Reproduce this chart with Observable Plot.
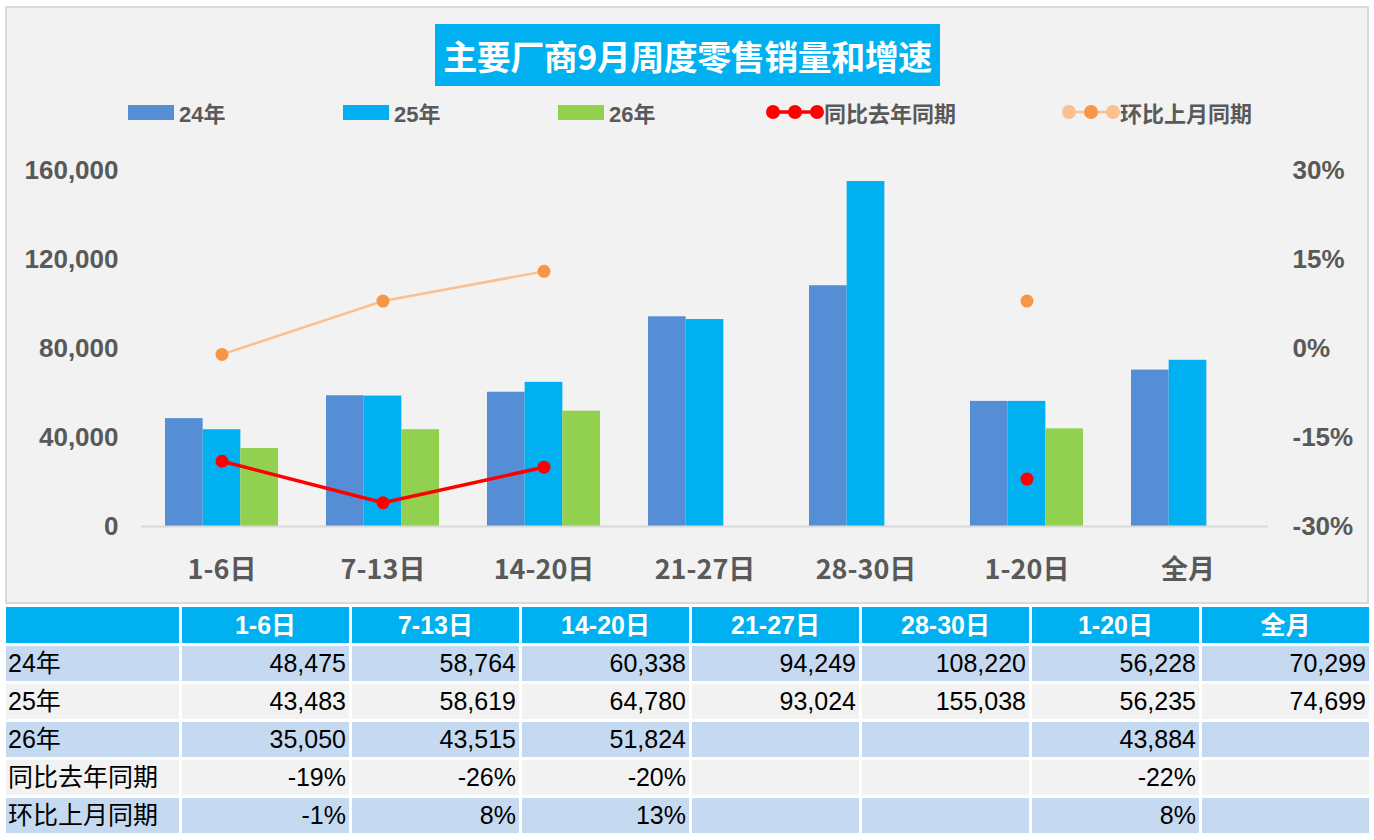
<!DOCTYPE html>
<html>
<head>
<meta charset="utf-8">
<script src="https://cdn.jsdelivr.net/npm/d3@7"></script>
<script src="https://cdn.jsdelivr.net/npm/@observablehq/plot@0.6"></script>
<style>
  html, body { margin: 0; padding: 0; background: #ffffff; }
  body { width: 1374px; height: 840px; overflow: hidden; font-family: "Liberation Sans", "Noto Sans CJK SC", sans-serif; }
  #wrap { position: relative; width: 1374px; height: 840px; }
  #chartbox { position: absolute; left: 5px; top: 6px; width: 1360px; height: 594px; background: #F2F2F2; border: 2px solid #D9D9D9; }
  #title { position: absolute; left: 435px; top: 24px; width: 505px; height: 62px; background: #00B0F0; color: #ffffff;
           font: bold 34px "Noto Sans CJK SC", sans-serif; display: flex; align-items: center; justify-content: center; letter-spacing: -0.5px; }
  .leg { position: absolute; top: 99px; height: 26px; display: flex; align-items: center; font: bold 22px "Liberation Sans", "Noto Sans CJK SC", sans-serif; color: #595959; }
  .sw { width: 46px; height: 15px; margin-right: 5px; }
  .plotlayer { position: absolute; left: 0; top: 140px; }
  #tbl { position: absolute; left: 3px; top: 604px; border-collapse: separate; border-spacing: 3px; font: 25px "Liberation Sans", "Noto Sans CJK SC", sans-serif; }
  #tbl td, #tbl th { padding: 0 3px; white-space: nowrap; height: 35px; line-height: 35px; }
  #tbl th { background: #00B0F0; color: #ffffff; font-weight: bold; text-align: center; height: 36px; }
  #tbl td { text-align: right; color: #000; }
  #tbl td.lab { text-align: left; padding-left: 2px; }
  #tbl tr.blue td { background: #C5D9F1; }
  #tbl tr.gray td { background: #F2F2F2; }
</style>
</head>
<body>
<div id="wrap">
  <div id="chartbox"></div>
  <div id="title">主要厂商9月周度零售销量和增速</div>
  <div id="legend"></div>
  <div id="p1" class="plotlayer"></div>
  <div id="p2" class="plotlayer"></div>
  <table id="tbl"></table>
</div>
<script>
// ---- data ----
const categories = ["1-6日", "7-13日", "14-20日", "21-27日", "28-30日", "1-20日", "全月"];
const seriesNames = ["24年", "25年", "26年"];
const sales24 = [48475, 58764, 60338, 94249, 108220, 56228, 70299];
const sales25 = [43483, 58619, 64780, 93024, 155038, 56235, 74699];
const sales26 = [35050, 43515, 51824, null, null, 43884, null];
const lineNames = ["同比去年同期", "环比上月同期"];
const yoy = [-0.19, -0.26, -0.20, null, null, -0.22, null];
const mom = [-0.01, 0.08, 0.13, null, null, 0.08, null];
const leftTicks = [0, 40000, 80000, 120000, 160000];
const rightTicks = [-0.30, -0.15, 0, 0.15, 0.30];

// ---- styles ----
const barColors = ["#558ED5", "#00B0F0", "#92D050"];
const yoyColor = "#FF0000";
const momLine = "#FAC090";
const momDot = "#F79646";
const W = 1374, H = 450, ML = 141, MR = 106, MT = 30, MB = 64;

// ---- legend ----
const legend = document.getElementById("legend");
const legPos = [128, 343, 558];
seriesNames.forEach((n, i) => {
  const d = document.createElement("div");
  d.className = "leg";
  d.style.left = legPos[i] + "px";
  d.innerHTML = `<div class="sw" style="background:${barColors[i]}"></div><span>${n}</span>`;
  legend.appendChild(d);
});
function lineLegend(left, name, lineC, dotCs, lw) {
  const d = document.createElement("div");
  d.className = "leg";
  d.style.left = left + "px";
  d.innerHTML = `<svg width="58" height="20"><line x1="7" x2="51" y1="10" y2="10" stroke="${lineC}" stroke-width="${lw}"/>` +
    `<circle cx="7" cy="10" r="7" fill="${dotCs[0]}"/><circle cx="29" cy="10" r="7" fill="${dotCs[1]}"/><circle cx="51" cy="10" r="7" fill="${dotCs[0]}"/></svg><span>${name}</span>`;
  legend.appendChild(d);
}
lineLegend(766, lineNames[0], yoyColor, [yoyColor, yoyColor], 3.5);
lineLegend(1062, lineNames[1], momLine, [momLine, momDot], 2.5);

// ---- bars plot ----
const barData = seriesNames.map((s, i) => categories.map((c, j) => ({cat: c, series: s, v: [sales24, sales25, sales26][i][j]})).filter(d => d.v != null));
const step = (W - ML - MR) / categories.length;
const bw = step * 0.234;
const g0 = (step - 3 * bw) / 2;
const fontCommon = {fontWeight: "bold", fill: "#595959"};

const p1 = Plot.plot({
  width: W, height: H,
  marginLeft: ML, marginRight: MR, marginTop: MT, marginBottom: MB,
  style: {background: "transparent", color: "#595959", overflow: "visible"},
  x: {type: "band", domain: categories, padding: 0, round: false},
  y: {domain: [0, 160000]},
  marks: [
    ...barData.map((data, i) => Plot.barY(data, {
      x: "cat", y: "v", fill: barColors[i],
      insetLeft: g0 + i * bw, insetRight: step - g0 - (i + 1) * bw
    })),
    Plot.ruleY([0], {stroke: "#D9D9D9", strokeWidth: 2}),
    Plot.axisY({ticks: leftTicks, tickSize: 0, tickPadding: 23, tickFormat: d3.format(","),
      fontSize: 26, fontFamily: "Liberation Sans, Noto Sans CJK SC, sans-serif", ...fontCommon, label: null}),
    Plot.axisX({tickSize: 0, tickPadding: 33, fontSize: 27, fontFamily: "Noto Sans CJK SC, sans-serif", ...fontCommon, label: null})
  ]
});
document.getElementById("p1").appendChild(p1);

// ---- line plot (secondary axis) ----
const lineData = (arr, name) => categories.map((c, j) => ({cat: c, name, v: arr[j] == null ? NaN : arr[j]}));
const yoyData = lineData(yoy, lineNames[0]);
const momData = lineData(mom, lineNames[1]);
const pct = d => Math.round(d * 100) + "%";

const p2 = Plot.plot({
  width: W, height: H,
  marginLeft: ML, marginRight: MR, marginTop: MT, marginBottom: MB,
  style: {background: "transparent", color: "#595959", overflow: "visible"},
  x: {type: "point", domain: categories, padding: 0.5, round: false, axis: null},
  y: {domain: [-0.3, 0.3]},
  marks: [
    Plot.line(momData, {x: "cat", y: "v", stroke: momLine, strokeWidth: 2.5}),
    Plot.dot(momData.filter(d => !isNaN(d.v)), {x: "cat", y: "v", r: 6.5, fill: momDot, stroke: null}),
    Plot.line(yoyData, {x: "cat", y: "v", stroke: yoyColor, strokeWidth: 3.5}),
    Plot.dot(yoyData.filter(d => !isNaN(d.v)), {x: "cat", y: "v", r: 6.5, fill: yoyColor, stroke: null}),
    Plot.axisY({anchor: "right", ticks: rightTicks, tickSize: 0, tickPadding: 24, tickFormat: pct,
      fontSize: 26, fontFamily: "Liberation Sans, Noto Sans CJK SC, sans-serif", ...fontCommon, label: null})
  ]
});
document.getElementById("p2").appendChild(p2);

// ---- table ----
const tbl = d3.select("#tbl");
const colW = [173].concat(categories.map(() => 167));
const head = tbl.append("tr");
head.append("th").style("width", (colW[0] - 6) + "px").text("");
categories.forEach((c, j) => head.append("th").style("width", (colW[j + 1] - 6) + "px").text(c));
const fmtN = d3.format(",");
const rows = [
  {label: seriesNames[0], vals: sales24.map(v => v == null ? "" : fmtN(v)), cls: "blue"},
  {label: seriesNames[1], vals: sales25.map(v => v == null ? "" : fmtN(v)), cls: "gray"},
  {label: seriesNames[2], vals: sales26.map(v => v == null ? "" : fmtN(v)), cls: "blue"},
  {label: lineNames[0], vals: yoy.map(v => v == null ? "" : pct(v)), cls: "gray"},
  {label: lineNames[1], vals: mom.map(v => v == null ? "" : pct(v)), cls: "blue"}
];
rows.forEach(r => {
  const tr = tbl.append("tr").attr("class", r.cls);
  tr.append("td").attr("class", "lab").text(r.label);
  r.vals.forEach(v => tr.append("td").text(v));
});
</script>
</body>
</html>
